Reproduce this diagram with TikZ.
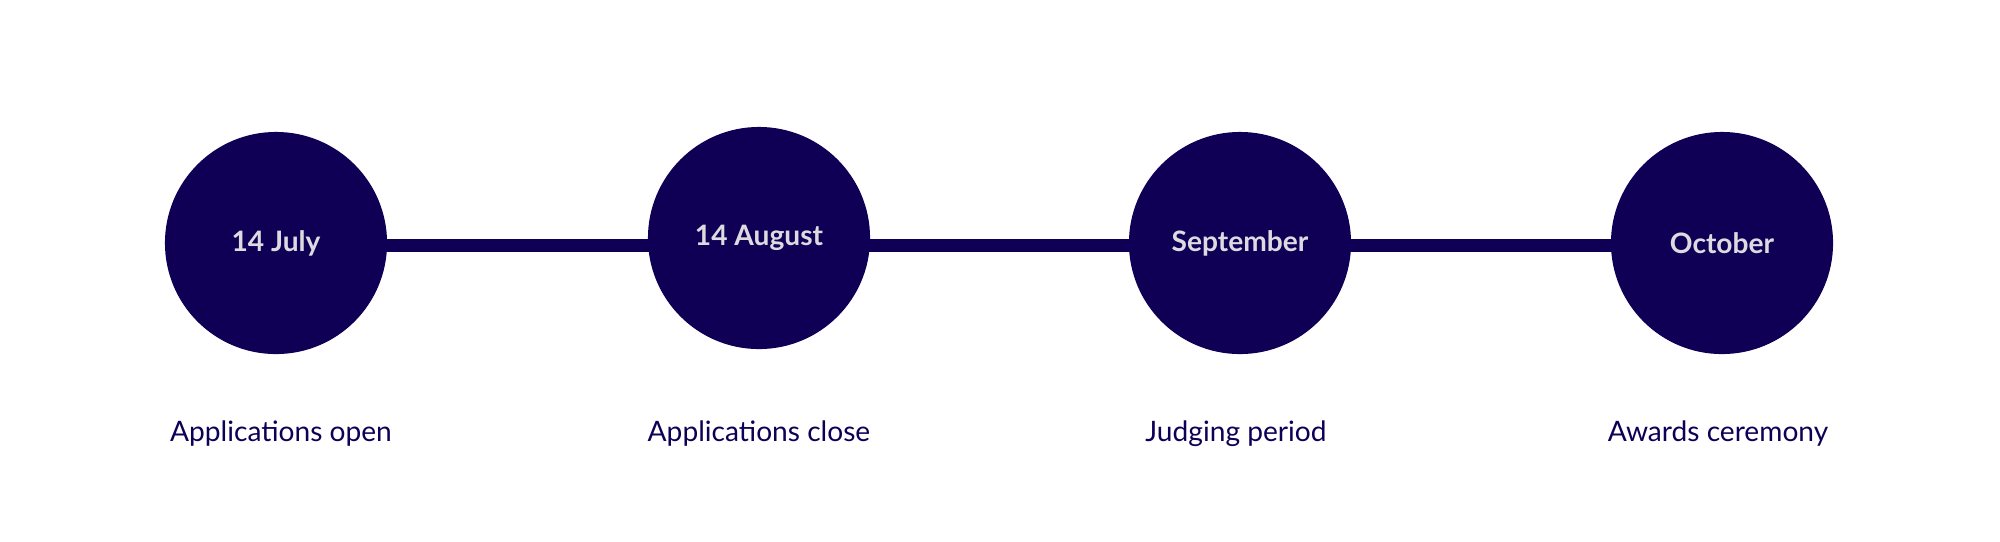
\documentclass[tikz,border=0pt]{standalone}
\usepackage{fontspec}
\setmainfont{Lato}
\definecolor{navy}{HTML}{0F0056}
\definecolor{pale}{HTML}{DCDCE0}
\begin{document}
\begin{tikzpicture}[x=0.01cm, y=-0.01cm,
  every node/.style={font=\fontsize{8}{10}\selectfont},
  milestone/.style={circle, fill=navy, minimum size=2.22cm, inner sep=0pt, text=pale, font=\fontsize{8}{10}\selectfont\bfseries},
  caption/.style={text=navy}]
  \useasboundingbox (0,0) rectangle (2000,541);
  \draw[navy, line width=0.13cm] (276,245) -- (1722,245);
  \node[milestone] (1) at (276, 243) {14 July};
  \node[milestone] (2) at (759, 238) {14 August};
  \node[milestone] (3) at (1240, 243) {September};
  \node[milestone] (4) at (1722, 243) {October};
  \node[caption] (l1) at (281, 434) {Applications open};
  \node[caption] (l2) at (759, 434) {Applications close};
  \node[caption] (l3) at (1236, 434) {Judging period};
  \node[caption] (l4) at (1718, 434) {Awards ceremony};
\end{tikzpicture}
\end{document}
